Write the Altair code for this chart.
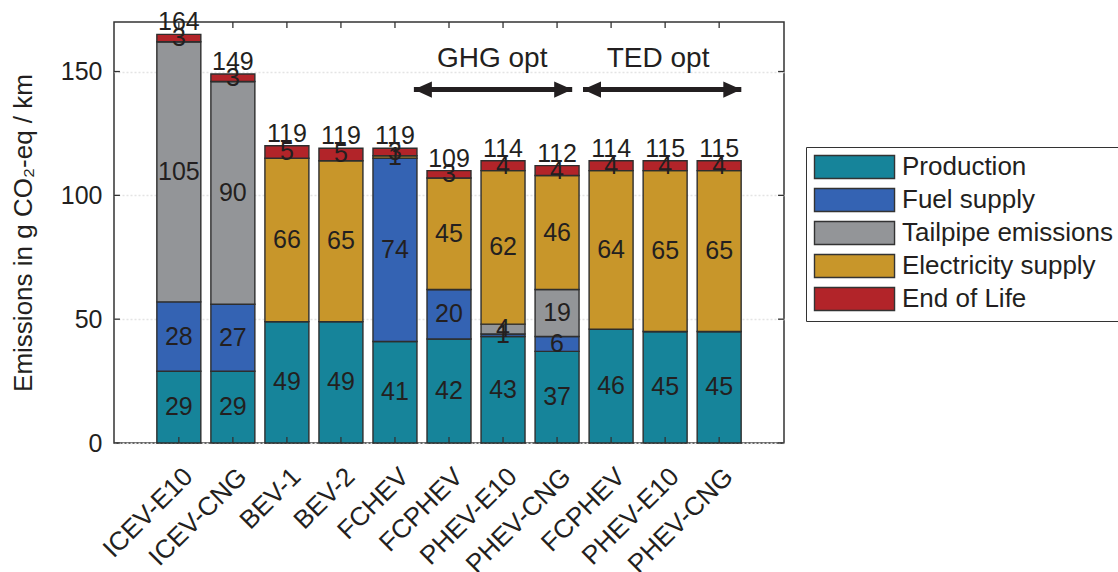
import altair as alt
import pandas as pd

FONT = "Liberation Sans"
TXT = "#231f20"

vehicles = ["ICEV-E10", "ICEV-CNG", "BEV-1", "BEV-2", "FCHEV", "FCPHEV",
            "PHEV-E10", "PHEV-CNG", "FCPHEV", "PHEV-E10", "PHEV-CNG"]
categories = ["Production", "Fuel supply", "Tailpipe emissions",
              "Electricity supply", "End of Life"]
colors = ["#16849a", "#3463b3", "#939598", "#c8962a", "#b22429"]

production  = [29, 29, 49, 49, 41, 42, 43, 37, 46, 45, 45]
fuel_supply = [28, 27, 0, 0, 74, 20, 1, 6, 0, 0, 0]
tailpipe    = [105, 90, 0, 0, 0, 0, 4, 19, 0, 0, 0]
electricity = [0, 0, 66, 65, 1, 45, 62, 46, 64, 65, 65]
end_of_life = [3, 3, 5, 5, 3, 3, 4, 4, 4, 4, 4]
totals      = [164, 149, 119, 119, 119, 109, 114, 112, 114, 115, 115]

groups = ["GHG opt", "TED opt"]
group_start = [5.35, 8.48]
group_end = [8.28, 11.41]
group_text_x = [6.80, 9.87]
arrow_y = 142.7
group_text_y = 152.0

y_ticks = [0, 50, 100, 150]
x_min, x_max = -0.2, 12.2
y_max = 170

series = [production, fuel_supply, tailpipe, electricity, end_of_life]
rows = []
for i, v in enumerate(vehicles):
    for k, (cat, vals) in enumerate(zip(categories, series)):
        rows.append({"idx": i + 1, "vehicle": v, "category": cat, "order": k,
                     "value": vals[i]})
df = pd.DataFrame(rows)
tot_df = pd.DataFrame({"idx": [i + 1 for i in range(len(vehicles))],
                       "total": totals,
                       "height": [sum(s[i] for s in series) for i in range(len(vehicles))]})

label_expr = "[" + ",".join("'%s'" % v for v in vehicles) + "][datum.value - 1]"

xscale = alt.Scale(domain=[x_min, x_max], nice=False, zero=False)
yscale = alt.Scale(domain=[0, y_max], nice=False)

base = alt.Chart(df).transform_stack(
    stack="value", groupby=["idx"], as_=["y0", "y1"],
    sort=[alt.SortField("order", order="ascending")]
).transform_calculate(
    xl="datum.idx - 0.407", xr="datum.idx + 0.407", ym="(datum.y0 + datum.y1) / 2"
)

bars = base.mark_bar(stroke="#2e2e2e", strokeWidth=1.4).encode(
    x=alt.X("xl:Q", scale=xscale,
            axis=alt.Axis(values=list(range(1, len(vehicles) + 1)), labelExpr=label_expr,
                          labelAngle=-45, labelFontSize=26, labelFont=FONT, labelColor=TXT,
                          labelPadding=20, ticks=False, domain=False, grid=False,
                          title=None, labelAlign="right", labelBaseline="top",
                          labelOverlap=False, labelBound=False, labelFlush=False)),
    x2="xr:Q",
    y=alt.Y("y0:Q", scale=yscale,
            axis=alt.Axis(values=y_ticks, labelFontSize=25, labelFont=FONT, labelColor=TXT,
                          labelPadding=12, ticks=False, domain=False, grid=True,
                          gridColor="#e4e4e4", gridDash=[2, 2], gridWidth=1.5,
                          title="Emissions in g CO₂-eq / km", titleFont=FONT,
                          titleFontSize=26, titleFontWeight="normal", titleColor=TXT,
                          titlePadding=24)),
    y2="y1:Q",
    fill=alt.Fill("category:N", scale=alt.Scale(domain=categories, range=colors),
                  legend=alt.Legend(title=None, orient="none", legendX=692, legendY=125,
                                    strokeColor="#333333", padding=7,
                                    labelFontSize=26, labelFont=FONT, labelColor=TXT,
                                    labelLimit=0,
                                    symbolType="M-1,-1L5.96,-1L5.96,1L-1,1Z",
                                    symbolSize=529, symbolStrokeColor="#333333",
                                    symbolStrokeWidth=1.4, symbolOpacity=1,
                                    rowPadding=3, labelOffset=63)),
)

seg_text = base.transform_filter("datum.value > 0").mark_text(
    font=FONT, fontSize=25, color=TXT, baseline="middle", align="center"
).encode(x=alt.X("idx:Q", scale=xscale), y=alt.Y("ym:Q", scale=yscale),
         text=alt.Text("value:Q"))

tot_text = alt.Chart(tot_df).mark_text(
    font=FONT, fontSize=25, color=TXT, baseline="alphabetic", align="center", dy=-4
).encode(x=alt.X("idx:Q", scale=xscale), y=alt.Y("height:Q", scale=yscale),
         text=alt.Text("total:Q"))

# inward tick marks (MATLAB style)
xt = pd.DataFrame({"idx": list(range(1, len(vehicles) + 1))})
bottom_ticks = alt.Chart(xt).mark_rule(color="#333333", strokeWidth=1.3).encode(
    x=alt.X("idx:Q", scale=xscale), y=alt.datum(0, scale=yscale), y2=alt.datum(2.4))
top_ticks = alt.Chart(xt).mark_rule(color="#333333", strokeWidth=1.3).encode(
    x=alt.X("idx:Q", scale=xscale), y=alt.datum(y_max, scale=yscale), y2=alt.datum(y_max - 2.4))
yt = pd.DataFrame({"v": y_ticks})
left_ticks = alt.Chart(yt).mark_rule(color="#333333", strokeWidth=1.3).encode(
    y=alt.Y("v:Q", scale=yscale), x=alt.datum(x_min, scale=xscale), x2=alt.datum(x_min + 0.11))
right_ticks = alt.Chart(yt).mark_rule(color="#333333", strokeWidth=1.3).encode(
    y=alt.Y("v:Q", scale=yscale), x=alt.datum(x_max, scale=xscale), x2=alt.datum(x_max - 0.11))

gdf = pd.DataFrame({"group": groups, "start": group_start, "end": group_end,
                    "tx": group_text_x})
arrow_line = alt.Chart(gdf).mark_rule(color="#231f20", strokeWidth=5).encode(
    x=alt.X("start:Q", scale=xscale), x2="end:Q", y=alt.datum(arrow_y, scale=yscale))
head_left = alt.Chart(gdf).mark_point(
    shape="M0,0L2,-0.9L2,0.9Z", filled=True, color="#231f20", size=324, opacity=1
).encode(x=alt.X("start:Q", scale=xscale), y=alt.datum(arrow_y, scale=yscale))
head_right = alt.Chart(gdf).mark_point(
    shape="M0,0L-2,-0.9L-2,0.9Z", filled=True, color="#231f20", size=324, opacity=1
).encode(x=alt.X("end:Q", scale=xscale), y=alt.datum(arrow_y, scale=yscale))
group_text = alt.Chart(gdf).mark_text(
    font=FONT, fontSize=28, color=TXT, baseline="alphabetic", align="center"
).encode(x=alt.X("tx:Q", scale=xscale), y=alt.datum(group_text_y, scale=yscale),
         text="group:N")

chart = alt.layer(
    bars, seg_text, tot_text, bottom_ticks, top_ticks, left_ticks, right_ticks,
    arrow_line, head_left, head_right, group_text
).properties(
    width=670, height=421,
    autosize=alt.AutoSizeParams(type="none"),
    padding={"left": 114, "top": 22, "right": 334, "bottom": 129},
    background="white",
).configure_view(stroke="#333333", strokeWidth=1.5)

chart.save("out.html", embed_options={"renderer": "svg", "actions": False})
